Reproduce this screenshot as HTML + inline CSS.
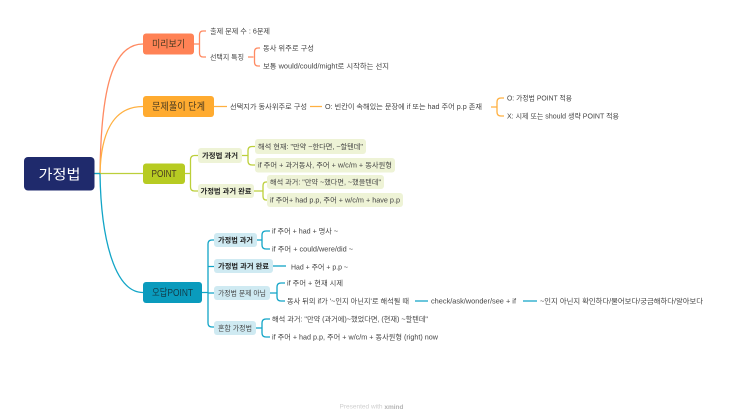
<!DOCTYPE html>
<html><head><meta charset="utf-8">
<style>
html,body{margin:0;padding:0;background:#fff;width:743px;height:419px;overflow:hidden}
svg{display:block;filter:blur(.3px)}
text{font-family:"Liberation Sans","Noto Sans CJK KR",sans-serif;dominant-baseline:central;fill:#444;font-size:7px;transform:translateY(.8px)}
.b{font-weight:bold;fill:#222}
.m{font-size:10px;fill:#4a3a20;text-anchor:middle}
path{fill:none;stroke-width:1.3}
.o path,path.o{stroke:#ff8a62}
.y path,path.y{stroke:#ffb040}
.g path,path.g{stroke:#bccf3a}
.c path,path.c{stroke:#12a5c7}
</style></head><body>
<svg width="743" height="419" viewBox="0 0 743 419" xmlns="http://www.w3.org/2000/svg">
<rect width="743" height="419" fill="#fff"/>
<!-- main connectors -->
<path class="o" d="M100 173.500C101 90 112 44 143 44"/>
<path class="y" d="M100 173.500C101 130 115 106.500 143 106.500"/>
<path class="g" d="M94 173.500H143"/>
<path class="c" d="M100 173.500C101 240 115 292.500 143 292.500"/>
<path d="M94 173.500H100" stroke="#12a5c7"/>
<!-- root -->
<rect x="24" y="157" width="70.500" height="33.500" rx="4" fill="#1f2a6c"/>
<text x="59.500" y="173.500" style="font-size:14px;fill:#fff;text-anchor:middle" textLength="42" lengthAdjust="spacingAndGlyphs">가정법</text>
<!-- main topics -->
<rect x="143" y="33.500" width="51" height="21" rx="3" fill="#ff8255"/>
<text class="m" x="168.500" y="44" textLength="33" lengthAdjust="spacingAndGlyphs">미리보기</text>
<rect x="143" y="96" width="71" height="21" rx="3" fill="#ffab30"/>
<text class="m" x="178.500" y="106.500" textLength="53" lengthAdjust="spacingAndGlyphs">문제풀이 단계</text>
<rect x="143" y="163.500" width="42" height="20.500" rx="3" fill="#b7cb22"/>
<text class="m" x="164" y="173.500" textLength="25" lengthAdjust="spacingAndGlyphs">POINT</text>
<rect x="143" y="282" width="59" height="21" rx="3" fill="#0a9bbd"/>
<text class="m" x="172.500" y="292.500" textLength="41" lengthAdjust="spacingAndGlyphs" style="fill:#123c4a">오답POINT</text>

<!-- preview -->
<g class="o">
<path d="M194 44H199M206 31H203Q199.500 31 199.500 35V53Q199.500 57 203 57H206"/>
<path d="M248 57H253.500M260 48H258Q254.500 48 254.500 52V62Q254.500 66 258 66H260"/>
</g>
<text x="210" y="31" textLength="60" lengthAdjust="spacingAndGlyphs">출제 문제 수 : 6문제</text>
<text x="210" y="57" textLength="34" lengthAdjust="spacingAndGlyphs">선택지 특징</text>
<text x="263" y="48" textLength="51" lengthAdjust="spacingAndGlyphs">동사 위주로 구성</text>
<text x="263" y="66" textLength="126" lengthAdjust="spacingAndGlyphs">보통 would/could/might로 시작하는 선지</text>

<!-- steps -->
<g class="y">
<path d="M214 106.500H227M310 106.500H322"/>
<path d="M491 107H496.500M504 98H501Q497 98 497 102V112Q497 116 501 116H504"/>
</g>
<text x="230" y="106.500" textLength="77" lengthAdjust="spacingAndGlyphs">선택지가 동사위주로 구성</text>
<text x="325" y="106.500" textLength="157" lengthAdjust="spacingAndGlyphs">O: 빈칸이 속해있는 문장에 if 또는 had 주어 p.p 존재</text>
<text x="507" y="98" textLength="65" lengthAdjust="spacingAndGlyphs">O: 가정법 POINT 적용</text>
<text x="507" y="116" textLength="112" lengthAdjust="spacingAndGlyphs">X: 시제 또는 should 생략 POINT 적용</text>

<!-- POINT -->
<g class="g">
<path d="M185 173.500H190.500M198 155.500H194.500Q190.500 155.500 190.500 160V187Q190.500 191 194.500 191H198"/>
<path d="M242 155.500H248M255 146.500H252Q248 146.500 248 150.500V161Q248 165 252 165H255"/>
<path d="M254 191H263M267 182H266Q263 182 263 186V196Q263 200 266 200H267"/>
</g>
<g fill="#eef3d6">
<rect x="198" y="148" width="44" height="15" rx="3"/>
<rect x="198" y="184" width="56" height="14" rx="3"/>
<rect x="255" y="139" width="111" height="15" rx="3"/>
<rect x="255" y="158" width="140" height="14.500" rx="3"/>
<rect x="267" y="175" width="117" height="14" rx="3"/>
<rect x="267" y="193" width="136" height="14" rx="3"/>
</g>
<text class="b" x="202" y="155.500" textLength="36" lengthAdjust="spacingAndGlyphs">가정법 과거</text>
<text class="b" x="200.500" y="191" textLength="51" lengthAdjust="spacingAndGlyphs">가정법 과거 완료</text>
<text x="258" y="146.500" textLength="105" lengthAdjust="spacingAndGlyphs">해석 현재: "만약 ~한다면, ~할텐데"</text>
<text x="258" y="165" textLength="134" lengthAdjust="spacingAndGlyphs">if 주어 + 과거동사, 주어 + w/c/m + 동사원형</text>
<text x="270" y="182" textLength="111" lengthAdjust="spacingAndGlyphs">해석 과거: "만약 ~했다면, ~했을텐데"</text>
<text x="270" y="200" textLength="130" lengthAdjust="spacingAndGlyphs">if 주어+ had p.p, 주어 + w/c/m + have p.p</text>

<!-- wrong answers -->
<g class="c">
<path d="M202 292.500H208M214 240H212Q208 240 208 244V323Q208 327 212 327H214M208 266.500H214M208 293H214"/>
<path d="M257 240H262M270 231H266Q262 231 262 235V245Q262 249 266 249H270"/>
<path d="M273 266H286"/>
<path d="M270 293H277M285 283H281Q277 283 277 287V297Q277 301 281 301H285"/>
<path d="M256 328H262M270 319H266Q262 319 262 323V333Q262 337 266 337H270"/>
<path d="M415 301H428M523 301H537"/>
</g>
<g fill="#cfeaf2">
<rect x="214" y="233" width="43" height="14" rx="3"/>
<rect x="214" y="259" width="59" height="14" rx="3"/>
<rect x="214" y="286" width="56" height="14" rx="3"/>
<rect x="214" y="321" width="42" height="14" rx="3"/>
</g>
<text class="b" x="218" y="240" textLength="35" lengthAdjust="spacingAndGlyphs">가정법 과거</text>
<text class="b" x="218" y="266" textLength="51" lengthAdjust="spacingAndGlyphs">가정법 과거 완료</text>
<text x="218" y="293" textLength="48" lengthAdjust="spacingAndGlyphs">가정법 문제 아님</text>
<text x="218" y="328" textLength="34" lengthAdjust="spacingAndGlyphs">혼합 가정법</text>
<text x="272" y="231" textLength="66" lengthAdjust="spacingAndGlyphs">if 주어 + had + 명사 ~</text>
<text x="272" y="249" textLength="81" lengthAdjust="spacingAndGlyphs">if 주어 + could/were/did ~</text>
<text x="291" y="267" textLength="57" lengthAdjust="spacingAndGlyphs">Had + 주어 + p.p ~</text>
<text x="287" y="283" textLength="56" lengthAdjust="spacingAndGlyphs">if 주어 + 현재 시제</text>
<text x="287" y="301" textLength="122" lengthAdjust="spacingAndGlyphs">동사 뒤의 if가 '~인지 아닌지'로 해석될 때</text>
<text x="431" y="301" textLength="85" lengthAdjust="spacingAndGlyphs">check/ask/wonder/see + if</text>
<text x="540" y="301" textLength="163" lengthAdjust="spacingAndGlyphs">~인지 아닌지 확인하다/물어보다/궁금해하다/알아보다</text>
<text x="272" y="319" textLength="156" lengthAdjust="spacingAndGlyphs">해석 과거: "만약 (과거에)~했었다면, (현재) ~할텐데"</text>
<text x="272" y="337" textLength="166" lengthAdjust="spacingAndGlyphs">if 주어 + had p.p, 주어 + w/c/m + 동사원형 (right) now</text>

<!-- footer -->
<text x="339.500" y="406" style="font-size:6.500px;fill:#cfcfcf" textLength="64" lengthAdjust="spacingAndGlyphs">Presented with <tspan font-weight="bold" style="fill:#b5b5b5">xmind</tspan></text>
</svg>
</body></html>
